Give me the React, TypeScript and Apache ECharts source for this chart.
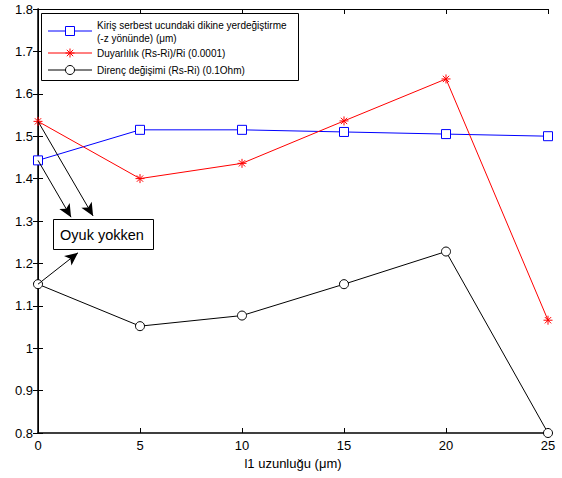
import React, { useEffect, useRef } from "react";
import * as echarts from "echarts";

const xValues = [0, 5, 10, 15, 20, 25];
const deflection = [1.443, 1.515, 1.515, 1.51, 1.505, 1.5];
const sensitivity = [1.535, 1.4, 1.436, 1.536, 1.635, 1.066];
const resistance = [1.151, 1.052, 1.077, 1.151, 1.228, 0.8];
const seriesNames = [
  "Kiriş serbest ucundaki dikine yerdeğiştirme (-z yönünde) (μm)",
  "Duyarlılık (Rs-Ri)/Ri (0.0001)",
  "Direnç değişimi (Rs-Ri) (0.1Ohm)",
];
const legendLines = [
  "Kiriş serbest ucundaki dikine yerdeğiştirme",
  "(-z yönünde) (μm)",
  "Duyarlılık (Rs-Ri)/Ri (0.0001)",
  "Direnç değişimi (Rs-Ri) (0.1Ohm)",
];
const xLabel = "l1 uzunluğu (μm)";
const noteText = "Oyuk yokken";
// arrow tips in data coordinates
const arrowTipBlue = [1.62, 1.309];
const arrowTipRed = [2.7, 1.312];
const arrowTipBlack = [1.96, 1.225];

const FONT = "Liberation Sans, Arial, Helvetica, sans-serif";
const ASTERISK =
  "path://M5,0 L5,10 M0,5 L10,5 M1.5,1.5 L8.5,8.5 M1.5,8.5 L8.5,1.5";

function arrowLine(startX: number, startY: number, tip: number[]) {
  return {
    silent: true,
    symbol: ["none", "arrow"],
    symbolSize: [9, 13],
    label: { show: false },
    lineStyle: { color: "#000", width: 1, type: "solid" },
    itemStyle: { color: "#000" },
    emphasis: { disabled: true },
    data: [[{ coord: [startX, startY] }, { coord: tip }]],
  };
}

export default function App() {
  const ref = useRef<HTMLDivElement>(null);
  useEffect(() => {
    const chart = echarts.init(ref.current!, undefined, { renderer: "svg" });
    const axisLabel = { color: "#000", fontSize: 13, fontFamily: FONT };
    const option: any = {
      animation: false,
      backgroundColor: "#fff",
      grid: { left: 38, right: 14, top: 9, bottom: 45, containLabel: false },
      xAxis: [
        {
          type: "value",
          min: 0,
          max: 25,
          interval: 5,
          position: "bottom",
          axisLine: { lineStyle: { color: "#000", width: 1.5 } },
          axisTick: { inside: true, length: 5, lineStyle: { color: "#000" } },
          axisLabel: { ...axisLabel, margin: 6 },
          splitLine: { show: false },
          name: xLabel,
          nameLocation: "middle",
          nameGap: 23,
          nameTextStyle: { color: "#000", fontSize: 13, fontFamily: FONT },
        },
        {
          type: "value",
          min: 0,
          max: 25,
          interval: 5,
          position: "top",
          axisLine: { show: true, lineStyle: { color: "#000", width: 1 } },
          axisTick: { inside: true, length: 5, lineStyle: { color: "#000" } },
          axisLabel: { show: false },
          splitLine: { show: false },
        },
      ],
      yAxis: [
        {
          type: "value",
          min: 0.8,
          max: 1.8,
          interval: 0.1,
          position: "left",
          axisLine: { show: true, lineStyle: { color: "#000", width: 1.5 } },
          axisTick: { show: true, inside: true, length: 5, lineStyle: { color: "#000" } },
          axisLabel: {
            ...axisLabel,
            margin: 5,
            formatter: (v: number) => String(parseFloat(v.toFixed(1))),
          },
          splitLine: { show: false },
        },
        {
          type: "value",
          min: 0.8,
          max: 1.8,
          interval: 0.1,
          position: "right",
          axisLine: { show: true, lineStyle: { color: "#000", width: 1 } },
          axisTick: { show: true, inside: true, length: 5, lineStyle: { color: "#000" } },
          axisLabel: { show: false },
          splitLine: { show: false },
        },
      ],
      series: [
        {
          name: seriesNames[0],
          type: "line",
          data: xValues.map((x, i) => [x, deflection[i]]),
          symbol: "rect",
          symbolSize: 9,
          showAllSymbol: true,
          clip: false,
          lineStyle: { color: "#0000ff", width: 1 },
          itemStyle: { color: "#fff", borderColor: "#0000ff", borderWidth: 1 },
          markLine: arrowLine(xValues[0], deflection[0], arrowTipBlue),
          z: 3,
        },
        {
          name: seriesNames[1],
          type: "line",
          data: xValues.map((x, i) => [x, sensitivity[i]]),
          symbol: ASTERISK,
          symbolSize: 9,
          showAllSymbol: true,
          clip: false,
          lineStyle: { color: "#ff0000", width: 1 },
          itemStyle: { color: "#ff0000", borderColor: "#ff0000", borderWidth: 1 },
          markLine: arrowLine(xValues[0], sensitivity[0], arrowTipRed),
          z: 3,
        },
        {
          name: seriesNames[2],
          type: "line",
          data: xValues.map((x, i) => [x, resistance[i]]),
          symbol: "circle",
          symbolSize: 9,
          showAllSymbol: true,
          clip: false,
          lineStyle: { color: "#000", width: 1 },
          itemStyle: { color: "#fff", borderColor: "#000", borderWidth: 1 },
          markLine: arrowLine(xValues[0], resistance[0], arrowTipBlack),
          z: 3,
        },
      ],
      graphic: [
        // annotation box
        {
          type: "rect",
          shape: { x: 53.5, y: 219.5, width: 100, height: 30 },
          style: { fill: "#fff", stroke: "#000", lineWidth: 1 },
          z: 10,
        },
        {
          type: "text",
          x: 102,
          y: 235,
          style: {
            text: noteText,
            fill: "#000",
            font: `14.5px ${FONT}`,
            align: "center",
            verticalAlign: "middle",
          },
          z: 11,
        },
        // legend
        {
          type: "rect",
          shape: { x: 41.5, y: 13.5, width: 257, height: 67 },
          style: { fill: "#fff", stroke: "#000", lineWidth: 1 },
          z: 10,
        },
        {
          type: "line",
          shape: { x1: 48, y1: 31, x2: 92, y2: 31 },
          style: { stroke: "#0000ff", lineWidth: 1 },
          z: 11,
        },
        {
          type: "rect",
          shape: { x: 65.5, y: 26.5, width: 9, height: 9 },
          style: { fill: "#fff", stroke: "#0000ff", lineWidth: 1 },
          z: 12,
        },
        {
          type: "line",
          shape: { x1: 48, y1: 53, x2: 92, y2: 53 },
          style: { stroke: "#ff0000", lineWidth: 1 },
          z: 11,
        },
        {
          type: "group",
          x: 70,
          y: 53,
          z: 12,
          children: [
            { type: "line", shape: { x1: 0, y1: -4.5, x2: 0, y2: 4.5 }, style: { stroke: "#ff0000", lineWidth: 1 }, z: 12 },
            { type: "line", shape: { x1: -4.5, y1: 0, x2: 4.5, y2: 0 }, style: { stroke: "#ff0000", lineWidth: 1 }, z: 12 },
            { type: "line", shape: { x1: -3.2, y1: -3.2, x2: 3.2, y2: 3.2 }, style: { stroke: "#ff0000", lineWidth: 1 }, z: 12 },
            { type: "line", shape: { x1: -3.2, y1: 3.2, x2: 3.2, y2: -3.2 }, style: { stroke: "#ff0000", lineWidth: 1 }, z: 12 },
          ],
        },
        {
          type: "line",
          shape: { x1: 48, y1: 70, x2: 92, y2: 70 },
          style: { stroke: "#000", lineWidth: 1 },
          z: 11,
        },
        {
          type: "circle",
          shape: { cx: 70, cy: 70, r: 4.5 },
          style: { fill: "#fff", stroke: "#000", lineWidth: 1 },
          z: 12,
        },
        ...[25, 38, 53, 70].map((y, i) => ({
          type: "text",
          x: 97,
          y,
          style: {
            text: legendLines[i],
            fill: "#000",
            font: `10px ${FONT}`,
            align: "left",
            verticalAlign: "middle",
          },
          z: 12,
        })),
      ],
    };
    chart.setOption(option);
    return () => chart.dispose();
  }, []);
  return (
    <div
      ref={ref}
      style={{ position: "fixed", left: 0, top: 0, width: 562, height: 478 }}
    />
  );
}
